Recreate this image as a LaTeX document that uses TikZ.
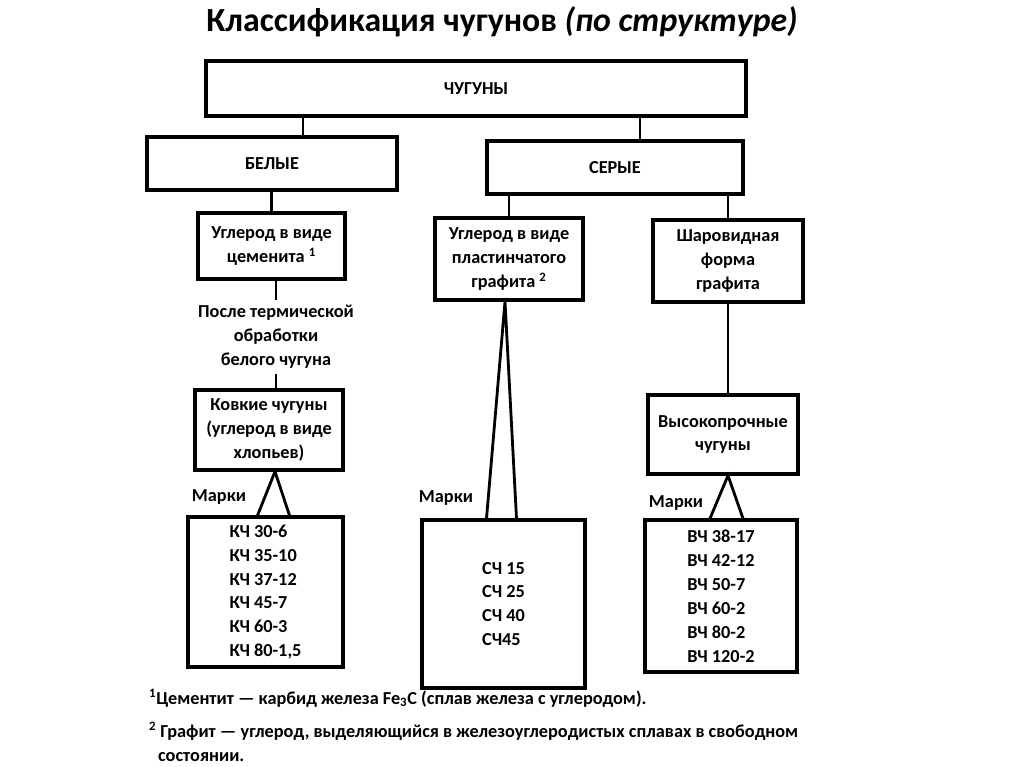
\documentclass[tikz,border=0pt]{standalone}
\usepackage{fontspec}
\setmainfont{Carlito}
\usetikzlibrary{positioning,calc}

\begin{document}
\begin{tikzpicture}[x=0.025cm,y=-0.025cm,line width=2pt,
  box/.style={draw,line width=2.2pt,align=center,inner sep=0pt},
  boxsize/.style 2 args={minimum width=#1*0.025cm,minimum height=#2*0.025cm},
  txt/.style={font=\fontsize{13}{17}\selectfont\bfseries,align=center}]
\useasboundingbox (0,0) rectangle (1024,767);
\node[font=\fontsize{24}{28}\selectfont\bfseries] (title) at (502,22) {Классификация чугунов \textit{(по структуре)}};
\node[box,txt,boxsize={540}{55}] (chug) at (476,88.5) {ЧУГУНЫ};
\node[box,txt,boxsize={250}{53}] (belye) at (272,163.5) {БЕЛЫЕ};
\node[box,txt,boxsize={256}{53}] (serye) at (615,167.5) {СЕРЫЕ};
\node[box,txt,boxsize={147}{66}] (cement) at (271.5,246) {Углерод в виде\\цеменита \textsuperscript{1}};
\node[box,txt,boxsize={148}{82}] (plast) at (509,259) {Углерод в виде\\пластинчатого\\графита \textsuperscript{2}};
\node[box,txt,boxsize={150}{82}] (shar) at (728,261) {Шаровидная\\форма\\графита};
\node[txt,inner sep=3pt] (after) at (276,337) {После термической\\обработки\\белого чугуна};
\node[box,txt,boxsize={148}{80}] (kovk) at (269,430) {Ковкие чугуны\\(углерод в виде\\хлопьев)};
\node[box,txt,boxsize={150}{79}] (vyso) at (723,434.5) {Высокопрочные\\чугуны};
\node[box,txt,boxsize={155}{150},align=left] (kch) at (265.5,592) {КЧ 30-6\\КЧ 35-10\\КЧ 37-12\\КЧ 45-7\\КЧ 60-3\\КЧ 80-1,5};
\node[box,txt,boxsize={163}{168},align=left] (sch) at (503.5,604) {СЧ 15\\СЧ 25\\СЧ 40\\СЧ45};
\node[box,txt,boxsize={152}{152},align=left] (vch) at (721,596) {ВЧ 38-17\\ВЧ 42-12\\ВЧ 50-7\\ВЧ 60-2\\ВЧ 80-2\\ВЧ 120-2};
\node[txt] (mk1) at (219,497) {Марки};
\node[txt] (mk2) at (446,498) {Марки};
\node[txt] (mk3) at (676,503) {Марки};
\node[txt,anchor=base west] (fn1) at (143,704) {\textsuperscript{1}Цементит — карбид железа Fe\textsubscript{3}C (сплав железа с углеродом).};
\node[txt,anchor=base west] (fn2) at (143,737) {\textsuperscript{2} Графит — углерод, выделяющийся в железоуглеродистых сплавах в свободном};
\node[txt,anchor=base west] (fn3) at (152,761) {состоянии.};

\coordinate (cb) at ($(belye.north)+(31,0)$);
\coordinate (cs) at ($(serye.north)+(25,0)$);
\draw (cb) -- (cb |- chug.south);
\draw (cs) -- (cs |- chug.south);
\draw (cement.north) -- (cement.north |- belye.south);
\draw (plast.north) -- (plast.north |- serye.south);
\draw (shar.north) -- (shar.north |- serye.south);
\draw (after.north) -- (after.north |- cement.south);
\draw (after.south) -- (after.south |- kovk.north);
\draw (shar.south) -- (shar.south |- vyso.north);

\coordinate (ka) at ($(kovk.south)+(6,0)$);
\draw ($(kch.north)+(-8,0)$) -- (ka) -- ($(kch.north)+(24,0)$);
\coordinate (pa) at ($(plast.south)+(-4,0)$);
\draw ($(sch.north)+(-17,0)$) -- (pa) -- ($(sch.north)+(13,0)$);
\coordinate (va) at ($(vyso.south)+(5,0)$);
\draw ($(vch.north)+(-11,0)$) -- (va) -- ($(vch.north)+(22,0)$);
\end{tikzpicture}
\end{document}
